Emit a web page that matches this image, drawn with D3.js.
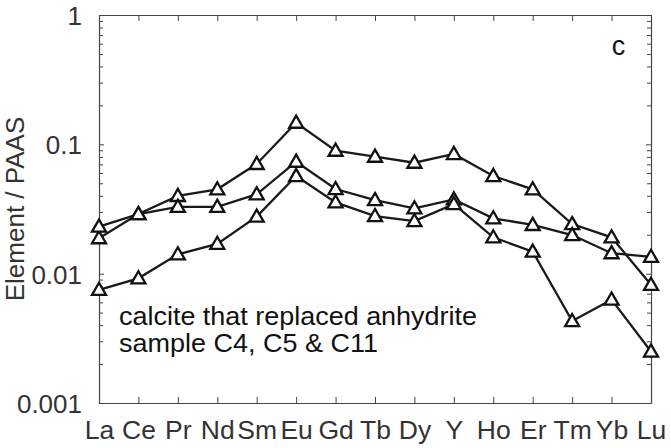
<!DOCTYPE html>
<html>
<head>
<meta charset="utf-8">
<script src="https://cdn.jsdelivr.net/npm/d3@7"></script>
<style>
  html, body { margin: 0; padding: 0; background: #fff; }
  svg { display: block; font-family: "Liberation Sans", Arial, Helvetica, sans-serif; }
</style>
</head>
<body>
<svg id="chart" width="671" height="448"></svg>
<script>
const elements = ["La", "Ce", "Pr", "Nd", "Sm", "Eu", "Gd", "Tb", "Dy", "Y", "Ho", "Er", "Tm", "Yb", "Lu"];
const sampleA = [0.0188, 0.0289, 0.0399, 0.0449, 0.0705, 0.147, 0.0893, 0.0802, 0.0721, 0.0842, 0.0569, 0.0449, 0.0242, 0.0191, 0.0082];
const sampleB = [0.0231, 0.0289, 0.0329, 0.0329, 0.0411, 0.0734, 0.0451, 0.0371, 0.0320, 0.0375, 0.0268, 0.0238, 0.0199, 0.0144, 0.0135];
const sampleC = [0.0075, 0.0092, 0.0141, 0.0170, 0.0276, 0.0569, 0.0356, 0.0279, 0.0255, 0.0345, 0.0191, 0.0148, 0.0043, 0.0063, 0.0025];
const yTickValues = [0.001, 0.01, 0.1, 1];
const yTickLabels = ["0.001", "0.01", "0.1", "1"];
const annotationLines = ["calcite that replaced anhydrite", "sample C4, C5 & C11"];
const panelLabel = "c";
const yAxisTitle = "Element / PAAS";

const svg = d3.select("#chart");
const m = { left: 99, right: 651, top: 15, bottom: 403 };

const x = d3.scalePoint().domain(elements).range([m.left, m.right]);
const y = d3.scaleLog().domain([0.001, 1]).range([m.bottom, m.top]);

const axisColor = "#444";
const textColor = "#333";

// minor ticks for log scale
const minorVals = [];
for (let e = -3; e < 0; e++) for (let k = 2; k <= 9; k++) minorVals.push(k * Math.pow(10, e));

const g = svg.append("g");

// Left axis
const leftAxis = d3.axisLeft(y).tickValues(yTickValues).tickFormat((d, i) => yTickLabels[i]).tickSizeInner(-5).tickSizeOuter(0).tickPadding(17);
const gl = g.append("g").attr("transform", `translate(${m.left},0)`).call(leftAxis);
gl.select(".domain").attr("stroke", axisColor).attr("stroke-width", 1.2);
gl.selectAll(".tick line").attr("stroke", axisColor);
gl.selectAll(".tick text").attr("font-size", 26).attr("fill", textColor).attr("dy", "0.36em");
const glm = g.append("g").attr("transform", `translate(${m.left},0)`).call(d3.axisLeft(y).tickValues(minorVals).tickFormat("").tickSizeInner(-4).tickSizeOuter(0));
glm.select(".domain").remove();
glm.selectAll(".tick line").attr("stroke", axisColor);

// Right axis
const gr = g.append("g").attr("transform", `translate(${m.right},0)`).call(d3.axisRight(y).tickValues(yTickValues).tickFormat("").tickSizeInner(-5).tickSizeOuter(0));
gr.select(".domain").attr("stroke", axisColor).attr("stroke-width", 1.2);
gr.selectAll(".tick line").attr("stroke", axisColor);
const grm = g.append("g").attr("transform", `translate(${m.right},0)`).call(d3.axisRight(y).tickValues(minorVals).tickFormat("").tickSizeInner(-4).tickSizeOuter(0));
grm.select(".domain").remove();
grm.selectAll(".tick line").attr("stroke", axisColor);

// Bottom axis
const gb = g.append("g").attr("transform", `translate(0,${m.bottom})`).call(d3.axisBottom(x).tickSizeInner(-6).tickSizeOuter(0).tickPadding(17));
gb.select(".domain").attr("stroke", axisColor).attr("stroke-width", 1.2);
gb.selectAll(".tick line").attr("stroke", axisColor);
gb.selectAll(".tick text").attr("font-size", 26.5).attr("fill", textColor);

// Top axis
const gt = g.append("g").attr("transform", `translate(0,${m.top})`).call(d3.axisTop(x).tickFormat("").tickSizeInner(-6).tickSizeOuter(0));
gt.select(".domain").attr("stroke", axisColor).attr("stroke-width", 1.2);
gt.selectAll(".tick line").attr("stroke", axisColor);

// Y axis title
svg.append("text")
  .attr("transform", `translate(24,${(m.top + m.bottom) / 2}) rotate(-90)`)
  .attr("text-anchor", "middle")
  .attr("font-size", 26)
  .attr("fill", textColor)
  .text(yAxisTitle);

// Series
const line = d3.line().x((d, i) => x(elements[i])).y(d => y(d));
const tri = d3.symbol().type(d3.symbolTriangle).size(85);
const seriesList = [sampleA, sampleB, sampleC];
seriesList.forEach(s => {
  svg.append("path").datum(s).attr("d", line).attr("fill", "none").attr("stroke", "#1a1a1a").attr("stroke-width", 2.3);
});
seriesList.forEach(s => {
  svg.append("g").selectAll("path").data(s).join("path")
    .attr("d", tri)
    .attr("transform", (d, i) => `translate(${x(elements[i])},${y(d) + 1})`)
    .attr("fill", "#fff")
    .attr("stroke", "#111")
    .attr("stroke-width", 2.3);
});

// Annotation
svg.append("text").attr("x", 119).attr("y", 325).attr("font-size", 25).attr("fill", "#111")
  .attr("textLength", 358).attr("lengthAdjust", "spacingAndGlyphs").text(annotationLines[0]);
svg.append("text").attr("x", 119).attr("y", 352).attr("font-size", 25).attr("fill", "#111")
  .attr("textLength", 259).attr("lengthAdjust", "spacingAndGlyphs").text(annotationLines[1]);

// Panel label
svg.append("text").attr("x", 618.5).attr("y", 55).attr("text-anchor", "middle").attr("font-size", 27).attr("fill", "#111").text(panelLabel);
</script>
</body>
</html>
